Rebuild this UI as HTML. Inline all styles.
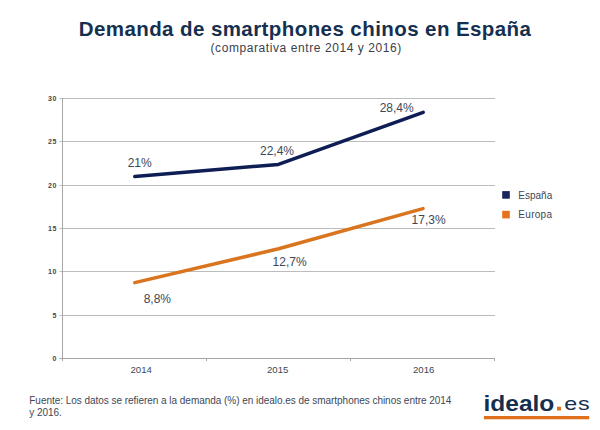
<!DOCTYPE html>
<html><head><meta charset="utf-8">
<style>
html,body{margin:0;padding:0;background:#fff;width:600px;height:430px;overflow:hidden}
svg{position:absolute;left:0;top:0;display:block}
text{font-family:"Liberation Sans",sans-serif}
</style></head>
<body>
<svg width="600" height="430" viewBox="0 0 600 430">
  <!-- title -->
  <text id="title" x="78.7" y="36.3" font-size="20.5" font-weight="bold" fill="#15304f" letter-spacing="0.42">Demanda de smartphones chinos en España</text>
  <text id="sub" x="210.5" y="52.2" font-size="12" fill="#3a404c" letter-spacing="0.58">(comparativa entre 2014 y 2016)</text>

  <!-- grid -->
  <g stroke-width="1" fill="none">
    <path stroke="#bcbcbc" d="M59.5 98.5H495M59.5 141.5H495M59.5 185.5H495M59.5 228.5H495M59.5 271.5H495M59.5 315.5H495"/>
    <path stroke="#a6a6a6" d="M59.5 358.5H495M62.5 98V361M206.5 358V361M350.5 358V361M494.5 358V361"/>
  </g>
  <!-- y labels -->
  <g font-size="7" font-weight="bold" fill="#474747" text-anchor="end" letter-spacing="0.4">
    <text id="y30" x="56.7" y="101">30</text>
    <text x="56.7" y="144">25</text>
    <text x="56.7" y="188">20</text>
    <text x="56.7" y="231">15</text>
    <text x="56.7" y="274">10</text>
    <text x="56.7" y="318">5</text>
    <text x="56.7" y="361">0</text>
  </g>
  <!-- x labels -->
  <g font-size="9.6" fill="#3e4756">
    <text id="x2014" x="130.5" y="372.6">2014</text>
    <text x="267" y="372.6">2015</text>
    <text x="413" y="372.6">2016</text>
  </g>

  <!-- lines -->
  <polyline points="134.8,176.6 278.4,164.4 423.2,112.3" fill="none" stroke="#0f1d55" stroke-width="3.5" stroke-linecap="round" stroke-linejoin="round"/>
  <polyline points="134.8,282.6 278.6,248.8 423,208.6" fill="none" stroke="#d9751e" stroke-width="3.5" stroke-linecap="round" stroke-linejoin="round"/>

  <!-- data labels -->
  <g font-size="12" fill="#3e4756">
    <text id="d21" x="127.7" y="166.8">21%</text>
    <text id="d224" x="260" y="155.4">22,4%</text>
    <text id="d284" x="413.7" y="111.6" text-anchor="end">28,4%</text>
    <text id="d88" x="143.7" y="302.5">8,8%</text>
    <text id="d127" x="272.6" y="266">12,7%</text>
    <text id="d173" x="411.6" y="224.2">17,3%</text>
  </g>

  <!-- legend -->
  <rect x="502.2" y="191.1" width="7.6" height="7.6" fill="#16255c"/>
  <rect x="502.2" y="210.8" width="7.6" height="7.6" fill="#e8701a"/>
  <g font-size="10" fill="#3e4756">
    <text id="lg1" x="518.3" y="198.7">España</text>
    <text id="lg2" x="518.3" y="218.3" letter-spacing="0.3">Europa</text>
  </g>

  <!-- footnote -->
  <g font-size="10" fill="#3e4756" letter-spacing="-0.035">
    <text id="fn1" x="29.3" y="404">Fuente: Los datos se refieren a la demanda (%) en idealo.es de smartphones chinos entre 2014</text>
    <text id="fn2" x="29.3" y="415.8">y 2016.</text>
  </g>

  <!-- logo -->
  <text id="logo" transform="translate(483.5,410.5) scale(1.09,1)" x="0" y="0" font-size="22.5" font-weight="bold" fill="#15304f">idealo</text>
  <rect x="557" y="406.7" width="4" height="3.8" fill="#e0711c"/>
  <text id="es" transform="translate(564.2,410.3) scale(1.33,1)" x="0" y="0" font-size="17.5" fill="#15304f" letter-spacing="0.6">es</text>
  <rect x="484" y="416" width="105.2" height="3.3" fill="#e0711c"/>
</svg>
</body></html>
